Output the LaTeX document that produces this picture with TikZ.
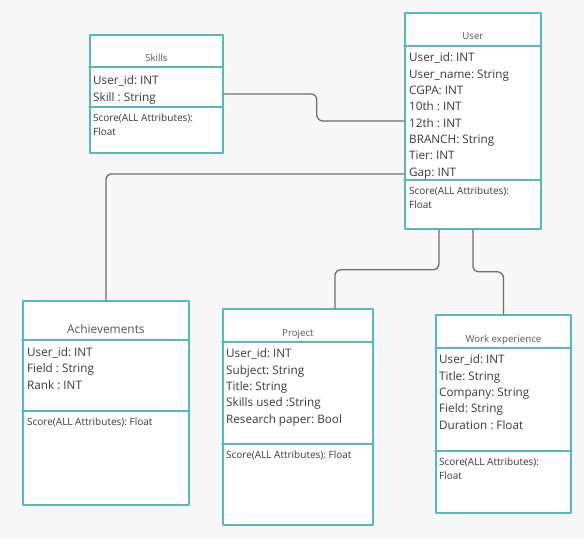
\documentclass[tikz,border=0pt]{standalone}
\usepackage{fontspec}
\setmainfont{Open Sans}
\frenchspacing
\usetikzlibrary{positioning}
\definecolor{umlteal}{HTML}{55BABA}
\definecolor{linkgray}{HTML}{6E6E6E}
\definecolor{bggray}{HTML}{F7F7F7}
\definecolor{txtgray}{HTML}{3A3A3A}
\begin{document}
\begin{tikzpicture}[x=1pt, y=-1pt, line join=round, line cap=round, font=\fontsize{11.7}{16.3}\selectfont]
	\tikzset{cls/.style={draw=umlteal, line width=1.8pt, fill=white, anchor=north west, inner sep=0pt},
		sep/.style={draw=umlteal, line width=1.5pt},
		ttl/.style={anchor=base, inner sep=0pt, text=txtgray!85, font=\fontsize{9.7}{11}\selectfont},
		attr/.style={anchor=base west, inner sep=0pt, align=left, text=txtgray},
		score/.style={anchor=base west, inner sep=0pt, align=left, text=txtgray, font=\fontsize{10}{13.3}\selectfont},
		link/.style={draw=linkgray, line width=1.3pt, rounded corners=6pt}}
	\fill[bggray] (0,0) rectangle (584,539);
	\useasboundingbox (0,0) rectangle (584,539);
	\node[cls, minimum width=133pt, minimum height=118pt] (skills) at (89,34) {};
	\node[cls, minimum width=136pt, minimum height=216pt] (user) at (404,12) {};
	\node[cls, minimum width=166pt, minimum height=204pt] (ach) at (22,300) {};
	\node[cls, minimum width=150pt, minimum height=216pt] (proj) at (222,308) {};
	\node[cls, minimum width=135pt, minimum height=198pt] (work) at (435,314) {};
	\draw[sep] (skills.west |- 0,67) -- (skills.east |- 0,67) (skills.west |- 0,107) -- (skills.east |- 0,107);
	\draw[sep] (user.west |- 0,46) -- (user.east |- 0,46) (user.west |- 0,180) -- (user.east |- 0,180);
	\draw[sep] (ach.west |- 0,340) -- (ach.east |- 0,340) (ach.west |- 0,411) -- (ach.east |- 0,411);
	\draw[sep] (proj.west |- 0,342) -- (proj.east |- 0,342) (proj.west |- 0,444) -- (proj.east |- 0,444);
	\draw[sep] (work.west |- 0,348) -- (work.east |- 0,348) (work.west |- 0,451) -- (work.east |- 0,451);
	% multi-line nodes sit on the baseline of their last line
	\node[ttl] (skillsT) at (skills.north |- 0,61) {Skills};
	\node[attr] (skillsA) at (93,101) {User\_id: INT\\Skill : String};
	\node[score] (skillsS) at (93,135) {Score(ALL Attributes):\\Float};
	\node[ttl] (userT) at (user.north |- 0,39) {User};
	\node[attr] (userA) at (409,176) {User\_id: INT\\User\_name: String\\CGPA: INT\\10th : INT\\12th : INT\\BRANCH: String\\Tier: INT\\Gap: INT};
	\node[score] (userS) at (409,208) {Score(ALL Attributes):\\Float};
	\node[ttl, font=\fontsize{11.9}{13}\selectfont] (achT) at (ach.north |- 0,333) {Achievements};
	\node[attr] (achA) at (27,389) {User\_id: INT\\Field : String\\Rank : INT};
	\node[score] (achS) at (27,425) {Score(ALL Attributes): Float};
	\node[ttl] (projT) at (proj.north |- 0,336) {Project};
	\node[attr] (projA) at (226,423) {User\_id: INT\\Subject: String\\Title: String\\Skills used :String\\Research paper: Bool};
	\node[score] (projS) at (226,458) {Score(ALL Attributes): Float};
	\node[ttl] (workT) at (work.north |- 0,342) {Work experience};
	\node[attr] (workA) at (439,429) {User\_id: INT\\Title: String\\Company: String\\Field: String\\Duration : Float};
	\node[score] (workS) at (439,479) {Score(ALL Attributes):\\Float};
	\draw[link] (skills.east) -- ++(93,0) |- (user.west);
	\draw[link] ([yshift=-53pt]user.west) -| (ach.north);
	\draw[link] ([xshift=-34pt]user.south) -- ++(0,40) -| ([xshift=37pt]proj.north);
	\draw[link] (user.south) -- ++(0,42) -| (work.north);
\end{tikzpicture}
\end{document}
